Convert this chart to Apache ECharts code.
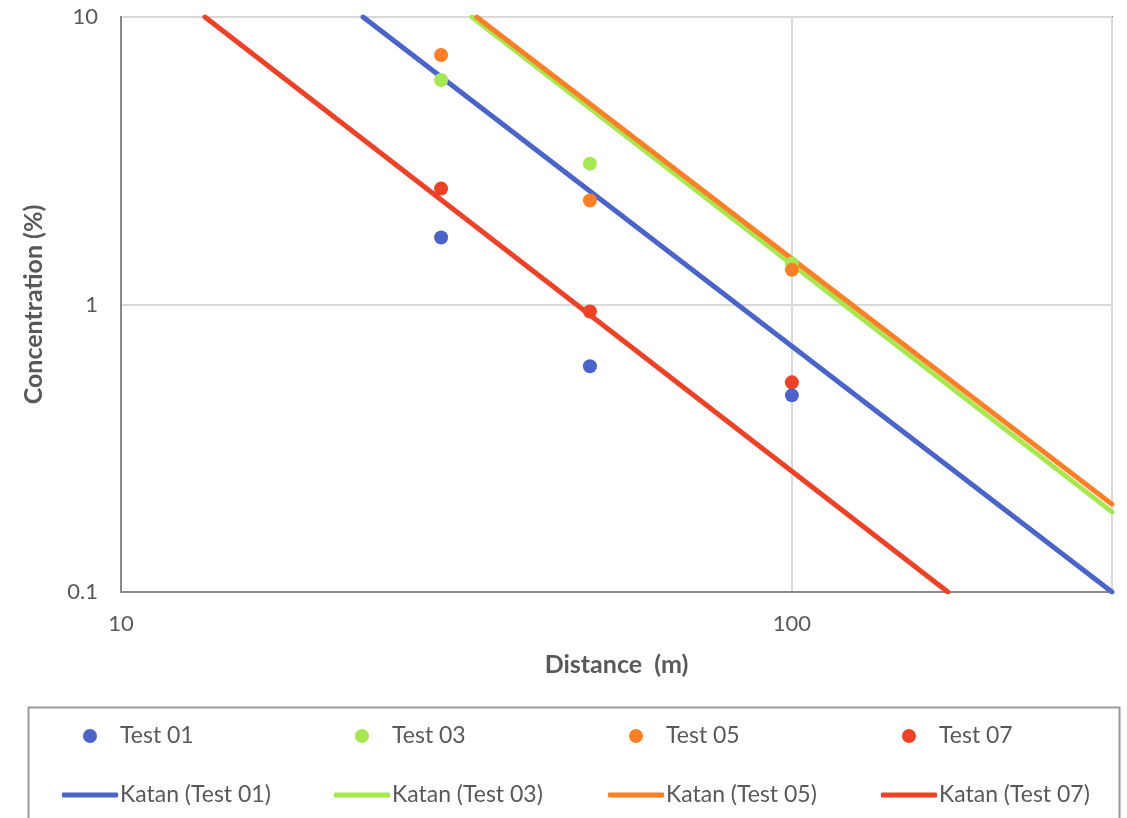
<!DOCTYPE html>
<html>
<head>
<meta charset="utf-8">
<title>Concentration vs Distance</title>
<script src="https://cdn.jsdelivr.net/npm/echarts@6/dist/echarts.min.js"></script>
<style>
  html, body { margin: 0; padding: 0; background: #fff; }
  #chart { width: 1127px; height: 818px; }
</style>
</head>
<body>
<div id="chart"></div>
<script>
// Measured concentrations (%) at each sampling distance (m)
const distances = [30, 50, 100];
const test01 = [1.71, 0.61, 0.483];
const test03 = [6.04, 3.09, 1.39];
const test05 = [7.38, 2.30, 1.32];
const test07 = [2.53, 0.946, 0.536];

// Katan model lines: straight on log-log axes, given by their two ends [distance, concentration]
const katan01 = [[22.95, 10], [300, 0.1]];
const katan03 = [[33.35, 10], [300, 0.19]];
const katan05 = [[33.9, 10], [300, 0.202]];
const katan07 = [[13.34, 10], [170.8, 0.1]];

const xTicks = [10, 100];
const yTicks = [0.1, 1, 10];

const colors = {
  t01: '#4b64c9',
  t03: '#a6e84f',
  t05: '#ff7f27',
  t07: '#ee4126'
};

const FONT = 'Lato, "Liberation Sans", sans-serif';
const TEXT = '#595959';

function pairs(ys) { return distances.map((d, i) => [d, ys[i]]); }

function scatter(name, ys, color) {
  return {
    name, type: 'scatter', data: pairs(ys),
    symbol: 'circle', symbolSize: 14,
    itemStyle: { color, opacity: 1 }, z: 5
  };
}
function katan(name, pts, color) {
  return {
    name, type: 'line', data: pts, symbol: 'none', clip: true,
    lineStyle: { color, width: 5, cap: 'round' },
    itemStyle: { color }, z: 3, silent: true
  };
}

// One legend block per entry so that each sits in its own column
const legendCols = [62, 334, 608, 881];
const legendNames = [
  ['Test 01', 'Katan (Test 01)', colors.t01],
  ['Test 03', 'Katan (Test 03)', colors.t03],
  ['Test 05', 'Katan (Test 05)', colors.t05],
  ['Test 07', 'Katan (Test 07)', colors.t07]
];
const legends = [];
legendNames.forEach((n, i) => {
  legends.push({
    left: legendCols[i] + 21, top: 723, padding: 0,
    itemWidth: 14, itemHeight: 14, itemGap: 0,
    data: [{ name: n[0], icon: 'circle' }],
    itemStyle: { opacity: 1 },
    textStyle: { fontFamily: FONT, fontSize: 23, color: TEXT, lineHeight: 26, padding: [0, 0, 0, 18] },
    selectedMode: false
  });
  legends.push({
    left: legendCols[i], top: 782, padding: 0,
    itemWidth: 56, itemHeight: 5, itemGap: 0,
    data: [{ name: n[1], icon: 'roundRect' }],
    textStyle: { fontFamily: FONT, fontSize: 23, color: TEXT, lineHeight: 26, padding: [0, 0, 0, -3] },
    selectedMode: false
  });
});

const chart = echarts.init(document.getElementById('chart'), null, { renderer: 'canvas' });
chart.setOption({
  animation: false,
  backgroundColor: '#ffffff',
  textStyle: { fontFamily: FONT },
  grid: {
    left: 121, top: 17, right: 15, bottom: 226,
    show: true, borderColor: '#8a8a8a', borderWidth: 2, backgroundColor: 'transparent'
  },
  xAxis: {
    type: 'log', logBase: 10, min: 10, max: 300,
    name: 'Distance  (m)', nameLocation: 'middle', nameGap: 60,
    nameTextStyle: { fontFamily: FONT, fontSize: 25, fontWeight: 'bold', color: TEXT },
    axisLine: { show: true, lineStyle: { color: '#8a8a8a', width: 2 } },
    axisTick: { show: false },
    axisLabel: {
      fontFamily: FONT, fontSize: 22, color: TEXT, margin: 21,
      formatter: v => (xTicks.some(t => Math.abs(t - v) < 1e-6) ? String(v) : '')
    },
    splitLine: { show: true, lineStyle: { color: '#d9d9d9', width: 2 } }
  },
  yAxis: {
    type: 'log', logBase: 10, min: 0.1, max: 10,
    name: 'Concentration (%)', nameLocation: 'middle', nameGap: 75, nameRotate: 90,
    nameTextStyle: { fontFamily: FONT, fontSize: 25, fontWeight: 'bold', color: TEXT },
    axisLine: { show: true, lineStyle: { color: '#8a8a8a', width: 2 } },
    axisTick: { show: false },
    axisLabel: {
      fontFamily: FONT, fontSize: 22, color: TEXT, margin: 23,
      formatter: v => {
        const t = yTicks.find(t => Math.abs(t - v) / t < 1e-6);
        return t === undefined ? '' : String(t);
      }
    },
    splitLine: { show: true, lineStyle: { color: '#d9d9d9', width: 2 } }
  },
  legend: legends,
  graphic: [{
    type: 'rect', left: 26, top: 705, z: -1,
    shape: { width: 1091, height: 130 },
    style: { fill: 'none', stroke: '#9a9a9a', lineWidth: 2 }
  }],
  series: [
    katan('Katan (Test 01)', katan01, colors.t01),
    katan('Katan (Test 03)', katan03, colors.t03),
    katan('Katan (Test 05)', katan05, colors.t05),
    katan('Katan (Test 07)', katan07, colors.t07),
    scatter('Test 01', test01, colors.t01),
    scatter('Test 03', test03, colors.t03),
    scatter('Test 05', test05, colors.t05),
    scatter('Test 07', test07, colors.t07)
  ]
});
</script>
</body>
</html>
